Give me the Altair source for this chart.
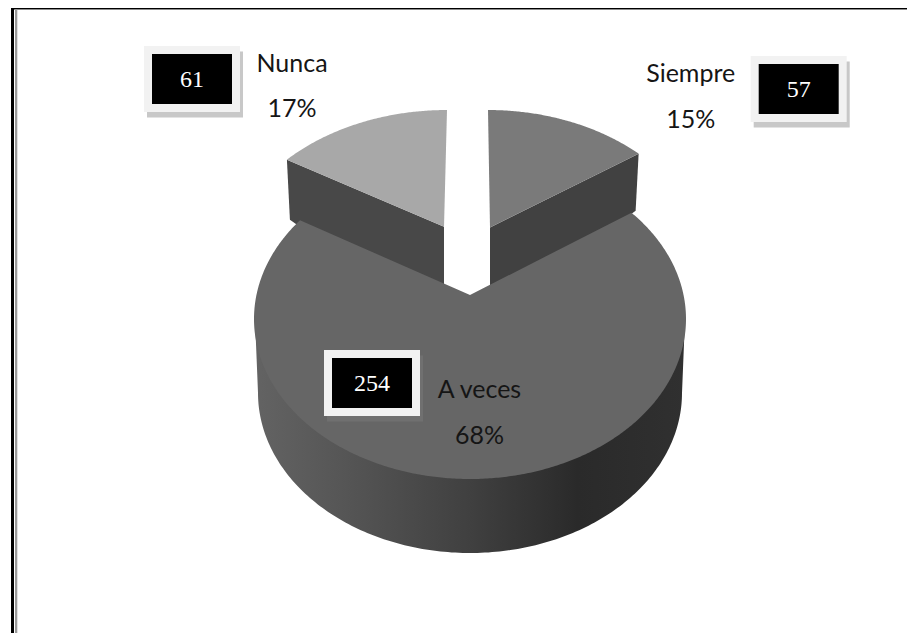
import math
import altair as alt
import pandas as pd

# ---- values
categories = ["Siempre", "A veces", "Nunca"]
counts = [57, 254, 61]
percents = ["15%", "68%", "17%"]

# ---- page-pixel scales
X = dict(scale=alt.Scale(domain=[8, 907], nice=False, zero=False), axis=None, title=None)
Y = dict(scale=alt.Scale(domain=[633, 8], nice=False, zero=False), axis=None, title=None)
total = sum(counts)


def sweep(i):
    a = sum(counts[:i]) / total * 360
    return a, a + counts[i] / total * 360


def proj(theta, g):
    """Perspective view of a point on the pie's rim (theta clockwise from the top)."""
    t = math.radians(theta)
    sx, sy = math.sin(t), math.cos(t)
    k = g["k"]
    d = 1 + k * sy
    return (g["cx"] + g["rx"] * sx * math.sqrt(1 - k * k) / d,
            g["cy"] - g["ry"] * (sy + k) / d)


def apex(g):
    return (g.get("ax", g["cx"]), g["cy"] - g["ry"] * g["k"])


def poly(points, fill):
    df = pd.DataFrame(points, columns=["x", "y"])
    df["o"] = range(len(df))
    return alt.Chart(df).mark_line(fill=fill, strokeOpacity=0, interpolate="linear").encode(
        x=alt.X("x:Q", **X), y=alt.Y("y:Q", **Y), order="o:Q")


def rects(rows, color):
    df = pd.DataFrame(rows, columns=["x", "x2", "y", "y2"])
    return alt.Chart(df).mark_rect(color=color).encode(
        x=alt.X("x:Q", **X), x2="x2:Q", y=alt.Y("y:Q", **Y), y2="y2:Q")


def arc(a, b, g):
    n = int(abs(b - a)) * 2
    return [proj(a + (b - a) * i / n, g) for i in range(n + 1)]


main = dict(cx=470, cy=319, rx=216, ry=160, k=0.15)
low = dict(cx=470, cy=393, rx=212, ry=160)
left = dict(cx=447, cy=271.6, rx=222, ry=161.6, k=0.277, ax=444)
right = dict(cx=488, cy=271, rx=220, ry=161, k=0.27, ax=490)

layers = []

# frame
layers.append(rects([(11, 14, 8, 633), (11, 907, 8, 9.4)], "#000000"))
layers.append(rects([(15, 17.3, 9.4, 633), (15, 907, 9.4, 10)], "#9a9a9a"))

# Siempre
a0, a1 = sweep(0)
ap = apex(right)
tip = proj(a1, right)
layers.append(poly([ap, tip, (tip[0] - 3, tip[1] + 57), (tip[0] - 15, tip[1] + 66),
                    (ap[0], ap[1] + 62), ap], "#414141"))
layers.append(poly([ap] + arc(a0, a1, right) + [ap], "#7a7a7a"))

# Nunca
a0, a1 = sweep(2)
ap = apex(left)
tip = proj(a0, left)
layers.append(poly([ap, tip, (tip[0] + 3, tip[1] + 60), (tip[0] + 20, tip[1] + 72),
                    (ap[0], ap[1] + 62), ap], "#484848"))
layers.append(poly([ap] + arc(a0, a1, left) + [ap], "#a8a8a8"))

# A veces: wall and face
top_edge = [(main["cx"] - (main["rx"] - 1) * math.cos(math.radians(d)),
             main["cy"] + (main["ry"] - 3) * math.sin(math.radians(d))) for d in range(0, 181, 1)]
low_edge = [(low["cx"] + low["rx"] * math.cos(math.radians(d)),
             low["cy"] + low["ry"] * math.sin(math.radians(d))) for d in range(0, 181, 1)]
wall_fill = alt.LinearGradient(
    gradient="linear", x1=0, x2=1, y1=0, y2=0,
    stops=[alt.GradientStop(offset=0, color="#636363"),
           alt.GradientStop(offset=0.2, color="#565656"),
           alt.GradientStop(offset=0.5, color="#404040"),
           alt.GradientStop(offset=0.75, color="#2a2a2a"),
           alt.GradientStop(offset=1, color="#303030")])
layers.append(poly(top_edge + low_edge + top_edge[:1], wall_fill))
a0, a1 = sweep(1)
ap = apex(main)
layers.append(poly([ap] + arc(a0, a1, main) + [ap], "#666666"))

# value boxes: shadow, frame, black plate, number
boxes = [(750.7, 56, counts[0], "#c8c8c8"), (324, 350, counts[1], "#707070"), (144, 46, counts[2], "#c8c8c8")]
for bx, by, value, shadow in boxes:
    layers.append(rects([(bx + 3, bx + 99, by + 5.5, by + 71.5)], shadow))
    layers.append(rects([(bx, bx + 96, by, by + 66)], "#f2f2f2"))
    layers.append(rects([(bx + 8, bx + 88, by + 8, by + 58)], "#000000"))
    tdf = pd.DataFrame([dict(x=bx + 48, y=by + 41, t=str(value))])
    layers.append(alt.Chart(tdf).mark_text(font="Liberation Serif", fontSize=24, color="#ffffff",
                                           align="center", baseline="alphabetic").encode(
        x=alt.X("x:Q", **X), y=alt.Y("y:Q", **Y), text="t:N"))

# category + percent labels
label_pos = [(690.7, 82, 128), (479.5, 398, 444), (292, 72, 117)]
rows = []
for (lx, y1, y2), c, p in zip(label_pos, categories, percents):
    rows.append(dict(x=lx, y=y1, t=c))
    rows.append(dict(x=lx, y=y2, t=p))
layers.append(alt.Chart(pd.DataFrame(rows)).mark_text(
    font="Lato", fontSize=25, color="#151515", align="center",
    baseline="alphabetic").encode(x=alt.X("x:Q", **X), y=alt.Y("y:Q", **Y), text="t:N"))

chart = alt.layer(*layers).properties(width=899, height=625, padding=0).configure_view(stroke=None)
chart.save("out.html", embed_options={"renderer": "svg", "actions": False})
